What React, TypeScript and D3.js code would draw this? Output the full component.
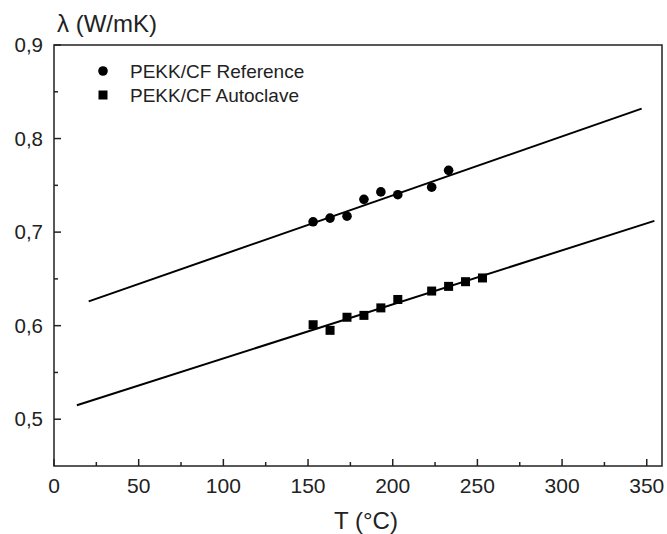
import { useEffect, useRef } from 'react';
import * as d3 from 'd3';

const WIDTH = 667;
const HEIGHT = 534;
const MARGIN = { top: 45, right: 5, bottom: 68, left: 54 };

const TEMP_REFERENCE = [153, 163, 173, 183, 193, 203, 223, 233];
const LAMBDA_REFERENCE = [0.711, 0.715, 0.717, 0.735, 0.743, 0.740, 0.748, 0.766];

const TEMP_AUTOCLAVE = [153, 163, 173, 183, 193, 203, 223, 233, 243, 253];
const LAMBDA_AUTOCLAVE = [0.601, 0.595, 0.609, 0.611, 0.619, 0.628, 0.637, 0.642, 0.647, 0.651];

// linear fit lines, end points
const FIT_REFERENCE: [number, number][] = [[20.5, 0.626], [347, 0.832]];
const FIT_AUTOCLAVE: [number, number][] = [[13.5, 0.515], [354.5, 0.712]];

const X_TICKS = [0, 50, 100, 150, 200, 250, 300, 350];
const X_MINOR = [25, 75, 125, 175, 225, 275, 325];
const Y_TICKS = [0.5, 0.6, 0.7, 0.8, 0.9];
const Y_MINOR = [0.55, 0.65, 0.75, 0.85];

const LEGEND_LABELS = ['PEKK/CF Reference', 'PEKK/CF Autoclave'];

const FONT = '"Liberation Sans", Arial, sans-serif';
const fmt = (v: number) => v.toFixed(1).replace('.', ',');

export default function App() {
  const ref = useRef<SVGSVGElement | null>(null);

  useEffect(() => {
    if (!ref.current) return;
    const svg = d3.select(ref.current);
    svg.selectAll('*').remove();

    const innerW = WIDTH - MARGIN.left - MARGIN.right;
    const innerH = HEIGHT - MARGIN.top - MARGIN.bottom;

    const x = d3.scaleLinear().domain([0, 359]).range([0, innerW]);
    const y = d3.scaleLinear().domain([0.45, 0.9]).range([innerH, 0]);

    const g = svg.append('g').attr('transform', `translate(${MARGIN.left},${MARGIN.top})`);

    // frame
    g.append('rect')
      .attr('x', 0)
      .attr('y', 0)
      .attr('width', innerW)
      .attr('height', innerH)
      .attr('fill', 'none')
      .attr('stroke', '#222')
      .attr('stroke-width', 1.5);

    // x ticks (inward)
    X_TICKS.forEach((t) => {
      g.append('line')
        .attr('x1', x(t)).attr('x2', x(t))
        .attr('y1', innerH).attr('y2', innerH - 7)
        .attr('stroke', '#222').attr('stroke-width', 1.5);
      g.append('text')
        .attr('x', x(t))
        .attr('y', innerH + 27)
        .attr('text-anchor', 'middle')
        .attr('font-family', FONT)
        .attr('font-size', 21)
        .attr('fill', '#222')
        .text(String(t));
    });
    X_MINOR.forEach((t) => {
      g.append('line')
        .attr('x1', x(t)).attr('x2', x(t))
        .attr('y1', innerH).attr('y2', innerH - 4)
        .attr('stroke', '#222').attr('stroke-width', 1.5);
    });

    // y ticks (inward)
    Y_TICKS.forEach((t) => {
      g.append('line')
        .attr('x1', 0).attr('x2', 7)
        .attr('y1', y(t)).attr('y2', y(t))
        .attr('stroke', '#222').attr('stroke-width', 1.5);
      g.append('text')
        .attr('x', -11)
        .attr('y', y(t) + 7)
        .attr('text-anchor', 'end')
        .attr('font-family', FONT)
        .attr('font-size', 20.5)
        .attr('fill', '#222')
        .text(fmt(t));
    });
    Y_MINOR.forEach((t) => {
      g.append('line')
        .attr('x1', 0).attr('x2', 4)
        .attr('y1', y(t)).attr('y2', y(t))
        .attr('stroke', '#222').attr('stroke-width', 1.5);
    });

    // axis titles
    svg.append('text')
      .attr('x', 57)
      .attr('y', 32)
      .attr('font-family', FONT)
      .attr('font-size', 24)
      .attr('fill', '#222')
      .text('λ (W/mK)');
    svg.append('text')
      .attr('x', 366)
      .attr('y', 529)
      .attr('text-anchor', 'middle')
      .attr('font-family', FONT)
      .attr('font-size', 24)
      .attr('fill', '#222')
      .text('T (°C)');

    // fit lines
    const line = d3
      .line<[number, number]>()
      .x((d) => x(d[0]))
      .y((d) => y(d[1]));
    [FIT_REFERENCE, FIT_AUTOCLAVE].forEach((fit) => {
      g.append('path')
        .datum(fit)
        .attr('fill', 'none')
        .attr('stroke', '#000')
        .attr('stroke-width', 2)
        .attr('d', line);
    });

    // data points
    TEMP_REFERENCE.forEach((t, i) => {
      g.append('circle')
        .attr('cx', x(t))
        .attr('cy', y(LAMBDA_REFERENCE[i]))
        .attr('r', 4.8)
        .attr('fill', '#000');
    });
    TEMP_AUTOCLAVE.forEach((t, i) => {
      g.append('rect')
        .attr('x', x(t) - 4.5)
        .attr('y', y(LAMBDA_AUTOCLAVE[i]) - 4.5)
        .attr('width', 9)
        .attr('height', 9)
        .attr('fill', '#000');
    });

    // legend
    const legend = svg.append('g').attr('transform', 'translate(103,71)');
    legend.append('circle').attr('cx', 0).attr('cy', 0).attr('r', 4.8).attr('fill', '#000');
    legend.append('rect').attr('x', -4.5).attr('y', 24 - 4.5).attr('width', 9).attr('height', 9).attr('fill', '#000');
    LEGEND_LABELS.forEach((label, i) => {
      legend.append('text')
        .attr('x', 27)
        .attr('y', i * 24 + 6.5)
        .attr('font-family', FONT)
        .attr('font-size', 19)
        .attr('fill', '#222')
        .text(label);
    });
  }, []);

  return (
    <svg
      ref={ref}
      width={WIDTH}
      height={HEIGHT}
      style={{ position: 'absolute', left: 0, top: 0, background: '#fff' }}
    />
  );
}
